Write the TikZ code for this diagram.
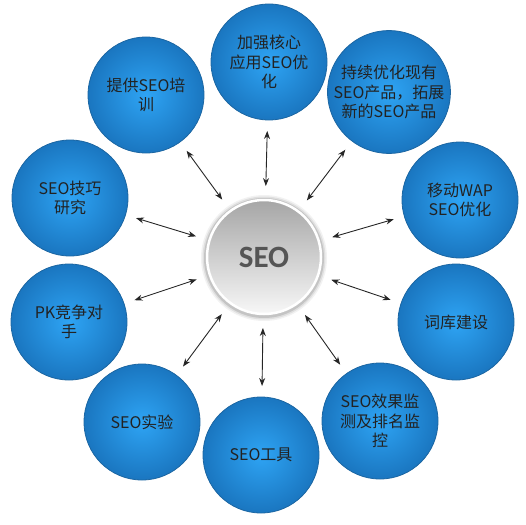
\documentclass[tikz,border=0pt]{standalone}
\usepackage{fontspec}
\setmainfont{Carlito}
\newfontfamily\cjk{Noto Sans CJK SC}
\usetikzlibrary{arrows.meta}
\definecolor{bluein}{HTML}{2EA4F4}
\definecolor{blueout}{HTML}{1A76C0}
\definecolor{blueedge}{HTML}{1C66A2}
\definecolor{txt}{HTML}{222222}
\definecolor{seotxt}{HTML}{555555}
\begin{document}
\begin{tikzpicture}[x=1pt,y=-1pt,
  bubble/.style={circle, minimum size=116pt, inner sep=0pt, outer sep=0pt,
    shading=radial, inner color=bluein, outer color=blueout,
    draw=blueedge, line width=0.8pt, text=txt, align=center,
    font=\cjk\fontsize{16}{19.5}\selectfont},
  hub/.style={circle, minimum size=114pt, inner sep=0pt, outer sep=0pt,
    top color=gray!70, bottom color=gray!6, draw=white, line width=2.5pt,
    text=seotxt, font=\bfseries\fontsize{31}{32}\selectfont},
  link/.style={{Stealth[length=8pt,width=6pt]}-{Stealth[length=8pt,width=6pt]},
    line width=0.9pt, draw=black!85, shorten <=11pt, shorten >=14pt}]
\useasboundingbox (0,0) rectangle (526,524);
% soft shadow of the hub
\foreach \r/\o in {63/0.05,61.5/0.08,60/0.12}
  \fill[black, opacity=\o] (264,258) circle (\r);
\node[hub] (c) at (264,257) {SEO};
\node[bubble] (n1) at (269,62) {加强核心\\应用SEO优\\化};
\node[bubble, minimum size=110pt] (n2) at (389,92) {持续优化现有\\SEO产品，拓展\\新的SEO产品};
\node[bubble] (n3) at (460,200) {移动WAP\\SEO优化};
\node[bubble] (n4) at (456,322) {词库建设};
\node[bubble] (n5) at (380,421) {SEO效果监\\测及排名监\\控};
\node[bubble] (n6) at (261,455) {SEO工具};
\node[bubble] (n7) at (142,422) {SEO实验};
\node[bubble] (n8) at (69,322) {PK竞争对\\手};
\node[bubble] (n9) at (70,198) {SEO技巧\\研究};
\node[bubble] (n10) at (146,95) {提供SEO培\\训};
\foreach \n in {n1,n2,n3,n4,n5,n6,n7,n8,n9,n10}
  \draw[link] (\n) -- (c);
\end{tikzpicture}
\end{document}
